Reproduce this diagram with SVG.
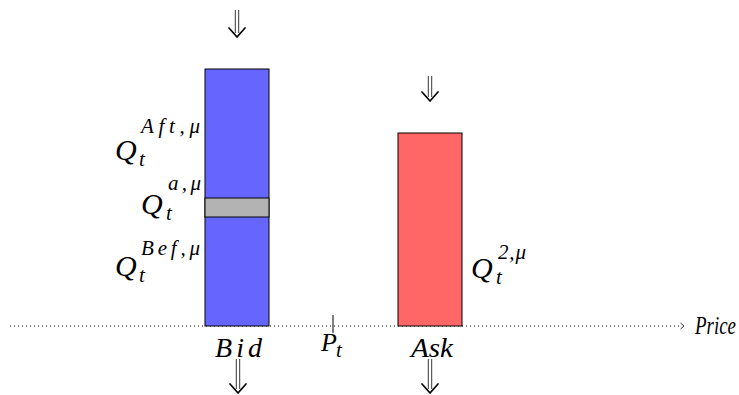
<svg xmlns="http://www.w3.org/2000/svg" width="739" height="395" viewBox="0 0 739 395">
<style>
.m{font-family:"Liberation Serif","DejaVu Serif",serif;font-style:italic;fill:#000}
.b{font-size:30px}
.s{font-size:21px}
.bar{stroke:#000;stroke-width:1}
.dl{stroke:#000;stroke-width:0.8;fill:none}
.hd{stroke:#000;stroke-width:1.7;fill:none;stroke-linecap:round;stroke-linejoin:round}
</style>
<rect width="739" height="395" fill="#fff"/>
<g id="axis">
<line x1="10" y1="326" x2="680" y2="326" stroke="#000" stroke-width="1" stroke-dasharray="1 3"/>
<path d="M680.5,323 L684,326 L680.5,329" fill="none" stroke="#000" stroke-width="0.8"/>
<text class="m" font-size="26" x="695" y="334" textLength="41" lengthAdjust="spacingAndGlyphs">Price</text>
</g>
<g id="bid">
<rect class="bar" x="205" y="69" width="64" height="257" fill="#6666ff"/>
<rect class="bar" x="205" y="198" width="64" height="19" fill="#b3b3b3"/>
<text class="m" font-size="28" x="215" y="357" textLength="47" lengthAdjust="spacing">Bid</text>
</g>
<g id="ask">
<rect class="bar" x="398" y="133" width="64" height="193" fill="#ff6666"/>
<text class="m" font-size="28" x="411" y="357" textLength="42" lengthAdjust="spacingAndGlyphs">Ask</text>
</g>
<g id="pt">
<line x1="333" y1="315" x2="333" y2="333" stroke="#000" stroke-width="1"/>
<text class="m" font-size="26" x="321" y="351">P</text>
<text class="m s" x="336" y="357">t</text>
</g>
<g id="labels">
<text class="m b" x="115" y="160">Q</text>
<text class="m s" x="141" y="133" textLength="59" lengthAdjust="spacing">Aft,μ</text>
<text class="m s" x="139" y="166">t</text>
<text class="m b" x="141" y="214">Q</text>
<text class="m s" x="168" y="190" textLength="33" lengthAdjust="spacing">a,μ</text>
<text class="m s" x="166" y="220">t</text>
<text class="m b" x="115" y="276">Q</text>
<text class="m s" x="141" y="255" textLength="59" lengthAdjust="spacing">Bef,μ</text>
<text class="m s" x="139" y="282">t</text>
<text class="m b" x="471" y="278">Q</text>
<text class="m s" x="498" y="259" textLength="28" lengthAdjust="spacing">2,μ</text>
<text class="m s" x="496" y="284">t</text>
</g>
<g id="connectors">
<g transform="translate(237,0)">
<line class="dl" x1="-1.7" y1="10" x2="-1.7" y2="33"/><line class="dl" x1="1.7" y1="10" x2="1.7" y2="33"/>
<path class="hd" d="M-8,28 L0,37 L8,28"/>
</g>
<g transform="translate(430,0)">
<line class="dl" x1="-1.7" y1="76" x2="-1.7" y2="97"/><line class="dl" x1="1.7" y1="76" x2="1.7" y2="97"/>
<path class="hd" d="M-8,92 L0,101 L8,92"/>
</g>
<g transform="translate(238,0)">
<line class="dl" x1="-1.7" y1="359" x2="-1.7" y2="389"/><line class="dl" x1="1.7" y1="359" x2="1.7" y2="389"/>
<path class="hd" d="M-8,384 L0,393 L8,384"/>
</g>
<g transform="translate(430,0)">
<line class="dl" x1="-1.7" y1="359" x2="-1.7" y2="389"/><line class="dl" x1="1.7" y1="359" x2="1.7" y2="389"/>
<path class="hd" d="M-8,384 L0,393 L8,384"/>
</g>
</g>
</svg>
